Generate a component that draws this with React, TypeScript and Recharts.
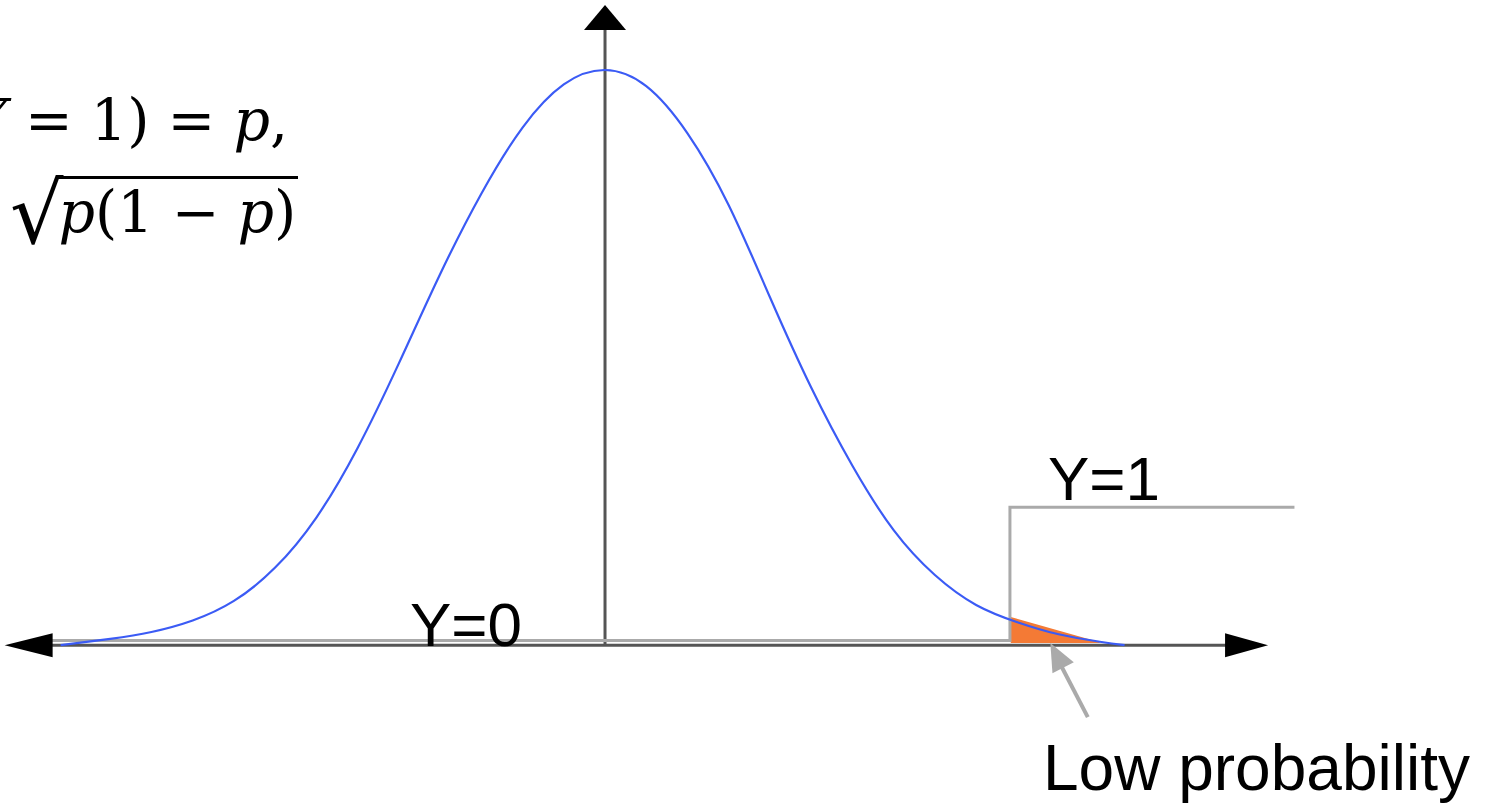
import React from "react";
import { ComposedChart, Line, Area, XAxis, YAxis, ReferenceLine, ReferenceDot } from "recharts";

// bell curve (x in sd units, height relative to peak)
const curveZ = [-3.3, -3.0, -2.75, -2.5, -2.25, -2.0, -1.75, -1.5, -1.25, -1.0, -0.75, -0.5, -0.25, 0, 0.25, 0.5, 0.75, 1.0, 1.25, 1.5, 1.75, 2.0, 2.25, 2.5, 2.75, 3.0, 3.15];
const curveDensity = [0.0, 0.011, 0.023, 0.043, 0.077, 0.135, 0.222, 0.343, 0.49, 0.645, 0.785, 0.9, 0.975, 1.0, 0.972, 0.89, 0.765, 0.605, 0.448, 0.312, 0.2, 0.122, 0.07, 0.04, 0.019, 0.006, 0.0];

// shaded tail
const tailZ = [2.46, 3.0];
const tailDensity = [0.049, 0.005];

// step function Y=0 / Y=1
const stepZ = [-3.39, 2.455, 2.455, 4.18];
const stepLevel = [0.008, 0.008, 0.24, 0.24];

const curveData = curveZ.map((z, i) => ({ z, v: curveDensity[i] }));
const tailData = tailZ.map((z, i) => ({ z, v: tailDensity[i] }));
const stepData = stepZ.map((z, i) => ({ z, v: stepLevel[i] }));

const AXIS = "#555555";
const GRAY = "#aaaaaa";

function arrowShape(ux: number, uy: number, len: number, half: number, fill: string) {
  return (props: any) => {
    const { cx, cy } = props;
    if (cx == null || cy == null) return <g />;
    const bx = cx - ux * len;
    const by = cy - uy * len;
    const px = -uy;
    const py = ux;
    const pts = `${cx},${cy} ${bx + px * half},${by + py * half} ${bx - px * half},${by - py * half}`;
    return <polygon points={pts} fill={fill} />;
  };
}

const annLen = Math.hypot(38, 74);

const sans = "'Liberation Sans', Arial, sans-serif";
const serif = "'DejaVu Serif', 'Liberation Serif', serif";

export default function App() {
  return (
    <div style={{ position: "absolute", left: 0, top: 0, width: 1491, height: 803, background: "#fff", overflow: "hidden" }}>
      <ComposedChart width={1491} height={800} margin={{ top: 1, right: 185, bottom: 11, left: 3 }}>
        <XAxis type="number" dataKey="z" domain={[-3.65, 4.25]} hide allowDataOverflow />
        <YAxis type="number" domain={[-0.25, 1.12]} hide allowDataOverflow />
        <ReferenceLine segment={[{ x: -3.55, y: 0 }, { x: 3.9, y: 0 }]} stroke={AXIS} strokeWidth={3} />
        <ReferenceLine segment={[{ x: 0, y: 0 }, { x: 0, y: 1.08 }]} stroke={AXIS} strokeWidth={3} />
        <Line data={stepData} dataKey="v" type="linear" stroke={GRAY} strokeWidth={3} dot={false} isAnimationActive={false} />
        <Line data={curveData} dataKey="v" type="natural" stroke="#3b5bf5" strokeWidth={2.2} dot={false} isAnimationActive={false} />
        <Area data={tailData} dataKey="v" type="linear" baseValue={0.004} fill="#f47a35" fillOpacity={1} stroke="none" isAnimationActive={false} />
        <ReferenceLine segment={[{ x: 2.927, y: -0.125 }, { x: 2.755, y: -0.03 }]} stroke={GRAY} strokeWidth={4} />
        <ReferenceDot x={-3.64} y={0} ifOverflow="visible" shape={arrowShape(-1, 0, 48, 12, "#000")} />
        <ReferenceDot x={4.02} y={0} ifOverflow="visible" shape={arrowShape(1, 0, 43, 12, "#000")} />
        <ReferenceDot x={0} y={1.113} ifOverflow="visible" shape={arrowShape(0, -1, 25, 21, "#000")} />
        <ReferenceDot x={2.7} y={0.004} ifOverflow="visible" shape={arrowShape(-38 / annLen, -74 / annLen, 28, 12, GRAY)} />
      </ComposedChart>

      <div style={{ position: "absolute", left: 410, top: 594, fontFamily: sans, fontSize: 62, lineHeight: 1, color: "#000" }}>Y=0</div>
      <div style={{ position: "absolute", left: 1048, top: 448, fontFamily: sans, fontSize: 62, lineHeight: 1, color: "#000" }}>Y=1</div>
      <div style={{ position: "absolute", left: 1043, top: 736, fontFamily: sans, fontSize: 64, lineHeight: 1, color: "#000", whiteSpace: "nowrap" }}>Low probability</div>

      <div style={{ position: "absolute", right: 1491 - 288, top: 92, fontFamily: serif, fontSize: 57, lineHeight: 1, color: "#000", whiteSpace: "nowrap" }}>
        <i>P</i>(<i>Y</i> = 1) = <i>p</i>,
      </div>
      <div style={{ position: "absolute", left: 10, top: 176, fontFamily: serif, fontSize: 57, lineHeight: 1, color: "#000", whiteSpace: "nowrap", display: "flex", alignItems: "flex-start" }}>
        <span style={{ fontSize: 84, lineHeight: 1, marginTop: -4 }}>√</span>
        <span style={{ borderTop: "3px solid #000", paddingTop: 5, marginLeft: -5, paddingRight: 2 }}>
          <i>p</i>(1 − <i>p</i>)
        </span>
      </div>
    </div>
  );
}
